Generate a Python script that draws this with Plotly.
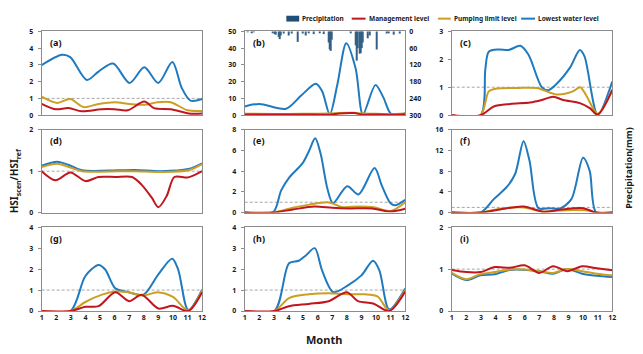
import plotly.graph_objects as go

W, H = 643, 354
MONTH_TICKS = list(range(1, 13))

# ---------------- data ----------------
# (a)
a_low_x = [1, 2.4, 2.96, 4.1, 4.9, 5.9, 7.03, 8.04, 8.99, 9.96, 10.6, 11.2, 12]
a_low_y = [2.98, 3.6, 3.46, 2.1, 2.6, 3.08, 1.92, 2.85, 1.92, 3.17, 1.63, 0.87, 0.96]
a_pump_x = [1, 2.06, 2.96, 3.87, 4.9, 6.0, 7.03, 8.04, 8.95, 9.85, 11, 12]
a_pump_y = [1.1, 0.73, 0.96, 0.48, 0.67, 0.77, 0.67, 0.62, 0.77, 0.77, 0.29, 0.25]
a_mgmt_x = [1, 1.95, 2.85, 3.75, 5.1, 6, 6.9, 8.04, 8.7, 9.85, 11.1, 12]
a_mgmt_y = [0.67, 0.35, 0.42, 0.23, 0.35, 0.35, 0.29, 0.81, 0.42, 0.35, 0.1, 0.1]
# (b)
b_low_x = [1, 2.0, 3.83, 4.85, 5.87, 6.3, 6.83, 7.35, 7.96, 8.6, 9.1, 9.96, 10.5, 11.0, 11.5, 12]
b_low_y = [5.2, 6.7, 3.85, 11.5, 18.7, 14.4, 0.5, 18.3, 42.9, 27.9, 0.5, 17.9, 10.6, 1.0, 0.3, 1.0]
b_pump_x = [1, 3, 5, 6.8, 7.5, 8.5, 9.1, 10, 11, 12]
b_pump_y = [0.8, 0.7, 0.8, 0.9, 1.3, 1.4, 0.9, 0.8, 0.5, 0.9]
b_mgmt_x = [1, 3, 5, 6.8, 7.5, 8.5, 9.1, 10, 11, 12]
b_mgmt_y = [0.4, 0.3, 0.4, 0.3, 1.0, 1.2, 0.3, 0.4, 0.2, 0.5]
# (c)
c_low_x = [1, 2.97, 3.3, 3.54, 4.22, 4.9, 5.7, 6.26, 7.17, 7.6, 8.19, 9.1, 9.78, 10.1, 11.0, 12]
c_low_y = [0, 0, 1.64, 2.27, 2.35, 2.33, 2.48, 2.16, 1.0, 0.89, 1.12, 1.7, 2.33, 2.1, 0.02, 1.2]
c_pump_x = [1, 2.97, 3.54, 4.1, 5.47, 6.83, 8.19, 9.3, 9.8, 10.2, 11, 12]
c_pump_y = [0, 0, 0.85, 0.95, 0.97, 0.97, 0.74, 0.85, 1.0, 0.72, 0.05, 0.92]
c_mgmt_x = [1, 2.97, 3.88, 5.0, 6.37, 7.17, 7.96, 8.64, 9.78, 10.46, 11, 12]
c_mgmt_y = [0, 0, 0.31, 0.4, 0.45, 0.54, 0.66, 0.54, 0.43, 0.25, 0.02, 0.89]
# (d)
d_low_x = [1, 2.07, 2.86, 3.77, 6.27, 7.4, 9.2, 11.05, 12]
d_low_y = [1.13, 1.23, 1.15, 1.02, 1.02, 1.03, 1.0, 1.05, 1.19]
d_pump_x = [1, 2.07, 2.86, 3.77, 6.27, 7.4, 9.2, 11.05, 12]
d_pump_y = [1.1, 1.18, 1.1, 1.0, 1.0, 1.0, 0.98, 1.02, 1.17]
d_mgmt_x = [1, 1.95, 2.98, 4.0, 4.9, 6.05, 7.2, 7.86, 8.55, 9.0, 9.57, 10.1, 11.05, 12]
d_mgmt_y = [1.0, 0.78, 0.97, 0.76, 0.86, 0.86, 0.86, 0.67, 0.36, 0.13, 0.4, 0.86, 0.85, 1.0]
# (e)
e_low_x = [1, 2.93, 3.5, 4.06, 4.97, 5.42, 5.83, 6.2, 6.67, 7.05, 8.03, 8.8, 9.9, 10.4, 10.98, 11.3, 12]
e_low_y = [0, 0, 2.15, 3.4, 4.77, 6.0, 7.17, 5.7, 2.3, 0.92, 2.55, 1.75, 4.3, 2.6, 0.92, 0.7, 1.23]
e_pump_x = [1, 2.93, 4.3, 5.42, 6.78, 7.7, 8.8, 9.84, 11, 12]
e_pump_y = [0, 0, 0.46, 0.77, 0.98, 0.52, 0.6, 0.52, 0.15, 1.0]
e_mgmt_x = [1, 2.93, 4.3, 5.77, 7.0, 8.14, 9.73, 11, 12]
e_mgmt_y = [0, 0, 0.3, 0.58, 0.46, 0.4, 0.4, 0.1, 0.37]
# (f)
f_low_x = [1, 2.97, 3.88, 4.79, 5.35, 5.92, 6.33, 6.94, 7.73, 8.4, 9.2, 10.0, 10.45, 10.9, 12]
f_low_y = [0, 0, 2.6, 5.0, 7.5, 13.8, 10, 0.86, 0.86, 0.74, 2.6, 10.6, 8.1, 0, 0]
f_pump_x = [1, 2.97, 4.3, 5.92, 7.3, 8.4, 9.55, 10.45, 10.9, 12]
f_pump_y = [0, 0, 0.74, 1.0, 0.15, 0.4, 0.5, 0.37, 0, 0]
f_mgmt_x = [1, 2.97, 4.3, 5.92, 7.3, 8.4, 10, 10.9, 12]
f_mgmt_y = [0, 0, 0.6, 1.17, 0.15, 0.55, 0.86, 0, 0]
# (g)
g_low_x = [1, 2.98, 4.0, 4.9, 5.36, 6.05, 6.95, 7.98, 9.0, 9.95, 10.36, 11.05, 12]
g_low_y = [0, 0, 1.67, 2.2, 1.98, 1.08, 0.9, 0.78, 1.75, 2.5, 1.98, 0.05, 1.02]
g_pump_x = [1, 2.98, 4.0, 5.14, 6.05, 6.95, 7.98, 8.95, 10, 11.05, 12]
g_pump_y = [0, 0, 0.43, 0.78, 0.93, 0.9, 0.74, 0.9, 0.67, 0.03, 0.98]
g_mgmt_x = [1, 2.98, 4.0, 4.9, 6.05, 7.0, 7.85, 9.0, 10, 11.05, 12]
g_mgmt_y = [0, 0, 0.2, 0.23, 0.9, 0.47, 0.78, 0.12, 0.25, 0, 0.9]
# (h)
h_low_x = [1, 3.03, 4.04, 4.7, 5.17, 5.8, 6.3, 7.08, 8.1, 9.0, 9.8, 10.23, 10.9, 12]
h_low_y = [0, 0, 2.28, 2.4, 2.64, 3.0, 1.94, 0.9, 1.24, 1.7, 2.4, 1.94, 0.08, 1.08]
h_pump_x = [1, 3.03, 4.04, 5.4, 6.75, 8.0, 9.2, 10.1, 10.9, 12]
h_pump_y = [0, 0, 0.62, 0.8, 0.85, 0.8, 0.8, 0.7, 0.03, 1.0]
h_mgmt_x = [1, 3.03, 4.04, 5.4, 6.75, 8.0, 8.77, 9.8, 10.9, 12]
h_mgmt_y = [0, 0, 0.23, 0.34, 0.47, 0.9, 0.47, 0.36, 0, 0.93]
# (i)
i_low_x = [1, 2, 2.96, 3.97, 4.98, 7.0, 7.95, 8.92, 9.93, 10.94, 12]
i_low_y = [0.89, 0.74, 0.85, 0.88, 0.98, 0.95, 0.89, 1.0, 0.89, 0.84, 0.81]
i_pump_x = [1, 2, 2.96, 3.97, 4.98, 6, 7, 7.95, 8.92, 9.93, 10.94, 12]
i_pump_y = [0.91, 0.76, 0.88, 0.93, 0.99, 0.99, 0.95, 0.91, 1.0, 0.95, 0.89, 0.85]
i_mgmt_x = [1, 2, 2.96, 3.97, 4.98, 6, 7, 7.95, 8.92, 9.93, 10.94, 12]
i_mgmt_y = [0.98, 0.93, 0.93, 1.05, 1.03, 1.09, 0.91, 1.07, 0.95, 1.07, 1.02, 0.97]

# precipitation (panel b, right axis, mm)
precip_month = [1.2, 1.5, 1.65, 2.95, 3.05, 3.15, 3.3, 3.38, 3.45, 3.7, 4.05, 4.25, 4.6,
                4.95, 5.15, 5.4, 5.75, 6.15, 6.43, 6.78, 6.84, 6.9, 6.96, 8.26, 8.63,
                8.7, 8.76, 8.85, 8.92, 9.0, 9.07, 9.4, 9.6, 10.03, 10.7, 10.85, 11.2, 11.65]
precip_mm = [3, 4, 3, 6, 10, 12, 20, 28, 15, 8, 15, 8, 38,
             8, 15, 6, 10, 5, 10, 40, 65, 70, 30, 6, 50,
             105, 60, 80, 78, 60, 40, 25, 15, 65, 8, 5, 12, 8]

panel_labels = ["(a)", "(b)", "(c)", "(d)", "(e)", "(f)", "(g)", "(h)", "(i)"]
y_max = [5, 50, 3, 2, 8, 16, 4, 4, 2]
y_step = [1, 10, 1, 1, 2, 4, 1, 1, 1]
precip_ticks = [0, 60, 120, 180, 240, 300]
series_names = ["Lowest water level", "Pumping limit level", "Management level"]

panels = [
    [(a_low_x, a_low_y), (a_pump_x, a_pump_y), (a_mgmt_x, a_mgmt_y)],
    [(b_low_x, b_low_y), (b_pump_x, b_pump_y), (b_mgmt_x, b_mgmt_y)],
    [(c_low_x, c_low_y), (c_pump_x, c_pump_y), (c_mgmt_x, c_mgmt_y)],
    [(d_low_x, d_low_y), (d_pump_x, d_pump_y), (d_mgmt_x, d_mgmt_y)],
    [(e_low_x, e_low_y), (e_pump_x, e_pump_y), (e_mgmt_x, e_mgmt_y)],
    [(f_low_x, f_low_y), (f_pump_x, f_pump_y), (f_mgmt_x, f_mgmt_y)],
    [(g_low_x, g_low_y), (g_pump_x, g_pump_y), (g_mgmt_x, g_mgmt_y)],
    [(h_low_x, h_low_y), (h_pump_x, h_pump_y), (h_mgmt_x, h_mgmt_y)],
    [(i_low_x, i_low_y), (i_pump_x, i_pump_y), (i_mgmt_x, i_mgmt_y)],
]

# ---------------- styling ----------------
FONT = "Noto Sans"
COL_LOW = "#1f7ac0"
COL_PUMP = "#cc9f22"
COL_MGMT = "#c0161e"
COL_PREC = "#1f4e79"
colors = [COL_LOW, COL_PUMP, COL_MGMT]
AXCOL = "#8c8c8c"

cols_px = [(40, 202), (245, 407), (454, 616)]
rows_px = [(27, 113), (128, 213), (228, 314)]

def px_x(v):
    return v / W

def px_y(v):
    return 1 - v / H

fig = go.Figure()
layout = dict(
    width=W, height=H, margin=dict(l=0, r=0, t=0, b=0),
    paper_bgcolor="white", plot_bgcolor="white", showlegend=False,
    font=dict(family=FONT, color="#1a1a1a"),
)
shapes = []
annotations = []
tickfont = dict(family=FONT, size=7, color="#1a1a1a", weight="bold")

for k in range(9):
    r, c = divmod(k, 3)
    n = k + 1
    xa = "xaxis" if n == 1 else f"xaxis{n}"
    ya = "yaxis" if n == 1 else f"yaxis{n}"
    xr = "x" if n == 1 else f"x{n}"
    yr = "y" if n == 1 else f"y{n}"
    layout[xa] = dict(
        domain=[px_x(cols_px[c][0]), px_x(cols_px[c][1])], anchor=yr,
        range=[1, 12], tickvals=MONTH_TICKS, showticklabels=(r == 2),
        ticks="", showgrid=False, zeroline=False, showline=True, mirror=True,
        linecolor=AXCOL, linewidth=1, tickfont=tickfont,
    )
    layout[ya] = dict(
        domain=[px_y(rows_px[r][1]), px_y(rows_px[r][0])], anchor=xr,
        range=[0, y_max[k]], dtick=y_step[k], tick0=0, ticks="outside", ticklen=3,
        tickcolor=AXCOL, showgrid=False, zeroline=False, showline=True, mirror=True,
        linecolor=AXCOL, linewidth=1, tickfont=tickfont, ticklabelstandoff=3,
    )
    if k == 1:
        fig.add_trace(go.Bar(
            x=precip_month, y=precip_mm, width=0.07, marker_color=COL_PREC,
            marker_line_width=0, opacity=0.9, name="Precipitation",
            xaxis="x2", yaxis="y10",
        ))
    for s, (sx, sy) in enumerate(panels[k]):
        fig.add_trace(go.Scatter(
            x=sx, y=sy, mode="lines", name=series_names[s],
            line=dict(color=colors[s], width=2, shape="spline", smoothing=0.85),
            xaxis=xr, yaxis=yr,
        ))
    shapes.append(dict(type="line", xref=xr, yref=yr, x0=1, x1=12, y0=1, y1=1,
                       line=dict(color="#a6a6a6", width=1, dash="3px,2px"), layer="below"))
    annotations.append(dict(
        text=panel_labels[k], xref=f"{xr} domain", yref=f"{yr} domain",
        x=0.04, y=0.97, xanchor="left", yanchor="top", showarrow=False,
        font=dict(family=FONT, size=9, color="#111111", weight="bold"),
    ))

layout["yaxis10"] = dict(
    overlaying="y2", anchor="x2", side="right", range=[300, 0],
    tickvals=precip_ticks, ticks="", showgrid=False, zeroline=False,
    showline=False, tickfont=tickfont, ticklabelstandoff=3,
)

# custom legend
leg_y = 14
legend_items = [
    ("bar", COL_PREC, 287, 300, "Precipitation"),
    ("line", COL_MGMT, 353, 367, "Management level"),
    ("line", COL_PUMP, 440, 453, "Pumping limit level"),
    ("line", COL_LOW, 524, 538, "Lowest water level"),
]
for kind, col, x0, x1, label in legend_items:
    if kind == "bar":
        shapes.append(dict(type="rect", xref="paper", yref="paper",
                           x0=px_x(x0), x1=px_x(x1), y0=px_y(leg_y + 3), y1=px_y(leg_y - 3),
                           fillcolor=col, line=dict(width=0)))
    else:
        shapes.append(dict(type="line", xref="paper", yref="paper",
                           x0=px_x(x0), x1=px_x(x1), y0=px_y(leg_y), y1=px_y(leg_y),
                           line=dict(color=col, width=2)))
    annotations.append(dict(text=label, xref="paper", yref="paper",
                            x=px_x(x1 + 1), y=px_y(leg_y), xanchor="left", yanchor="middle",
                            showarrow=False,
                            font=dict(family=FONT, size=6.5, color="#1a1a1a", weight="bold")))

# axis titles
annotations.append(dict(text="Month", xref="paper", yref="paper", x=px_x(325), y=px_y(343),
                        xanchor="center", yanchor="middle", showarrow=False,
                        font=dict(family=FONT, size=11, color="#1a1a1a", weight="bold")))
annotations.append(dict(text="HSI<sub>scen</sub>/HSI<sub>ref</sub>", xref="paper", yref="paper",
                        x=px_x(13), y=px_y(180), xanchor="center", yanchor="middle",
                        textangle=-90, showarrow=False,
                        font=dict(family=FONT, size=10, color="#1a1a1a", weight="bold")))
annotations.append(dict(text="Precipitation(mm)", xref="paper", yref="paper",
                        x=px_x(633), y=px_y(167), xanchor="center", yanchor="middle",
                        textangle=-90, showarrow=False,
                        font=dict(family=FONT, size=9, color="#1a1a1a", weight="bold")))

layout["shapes"] = shapes
layout["annotations"] = annotations
fig.update_layout(**layout)
fig.write_html("out.html")
